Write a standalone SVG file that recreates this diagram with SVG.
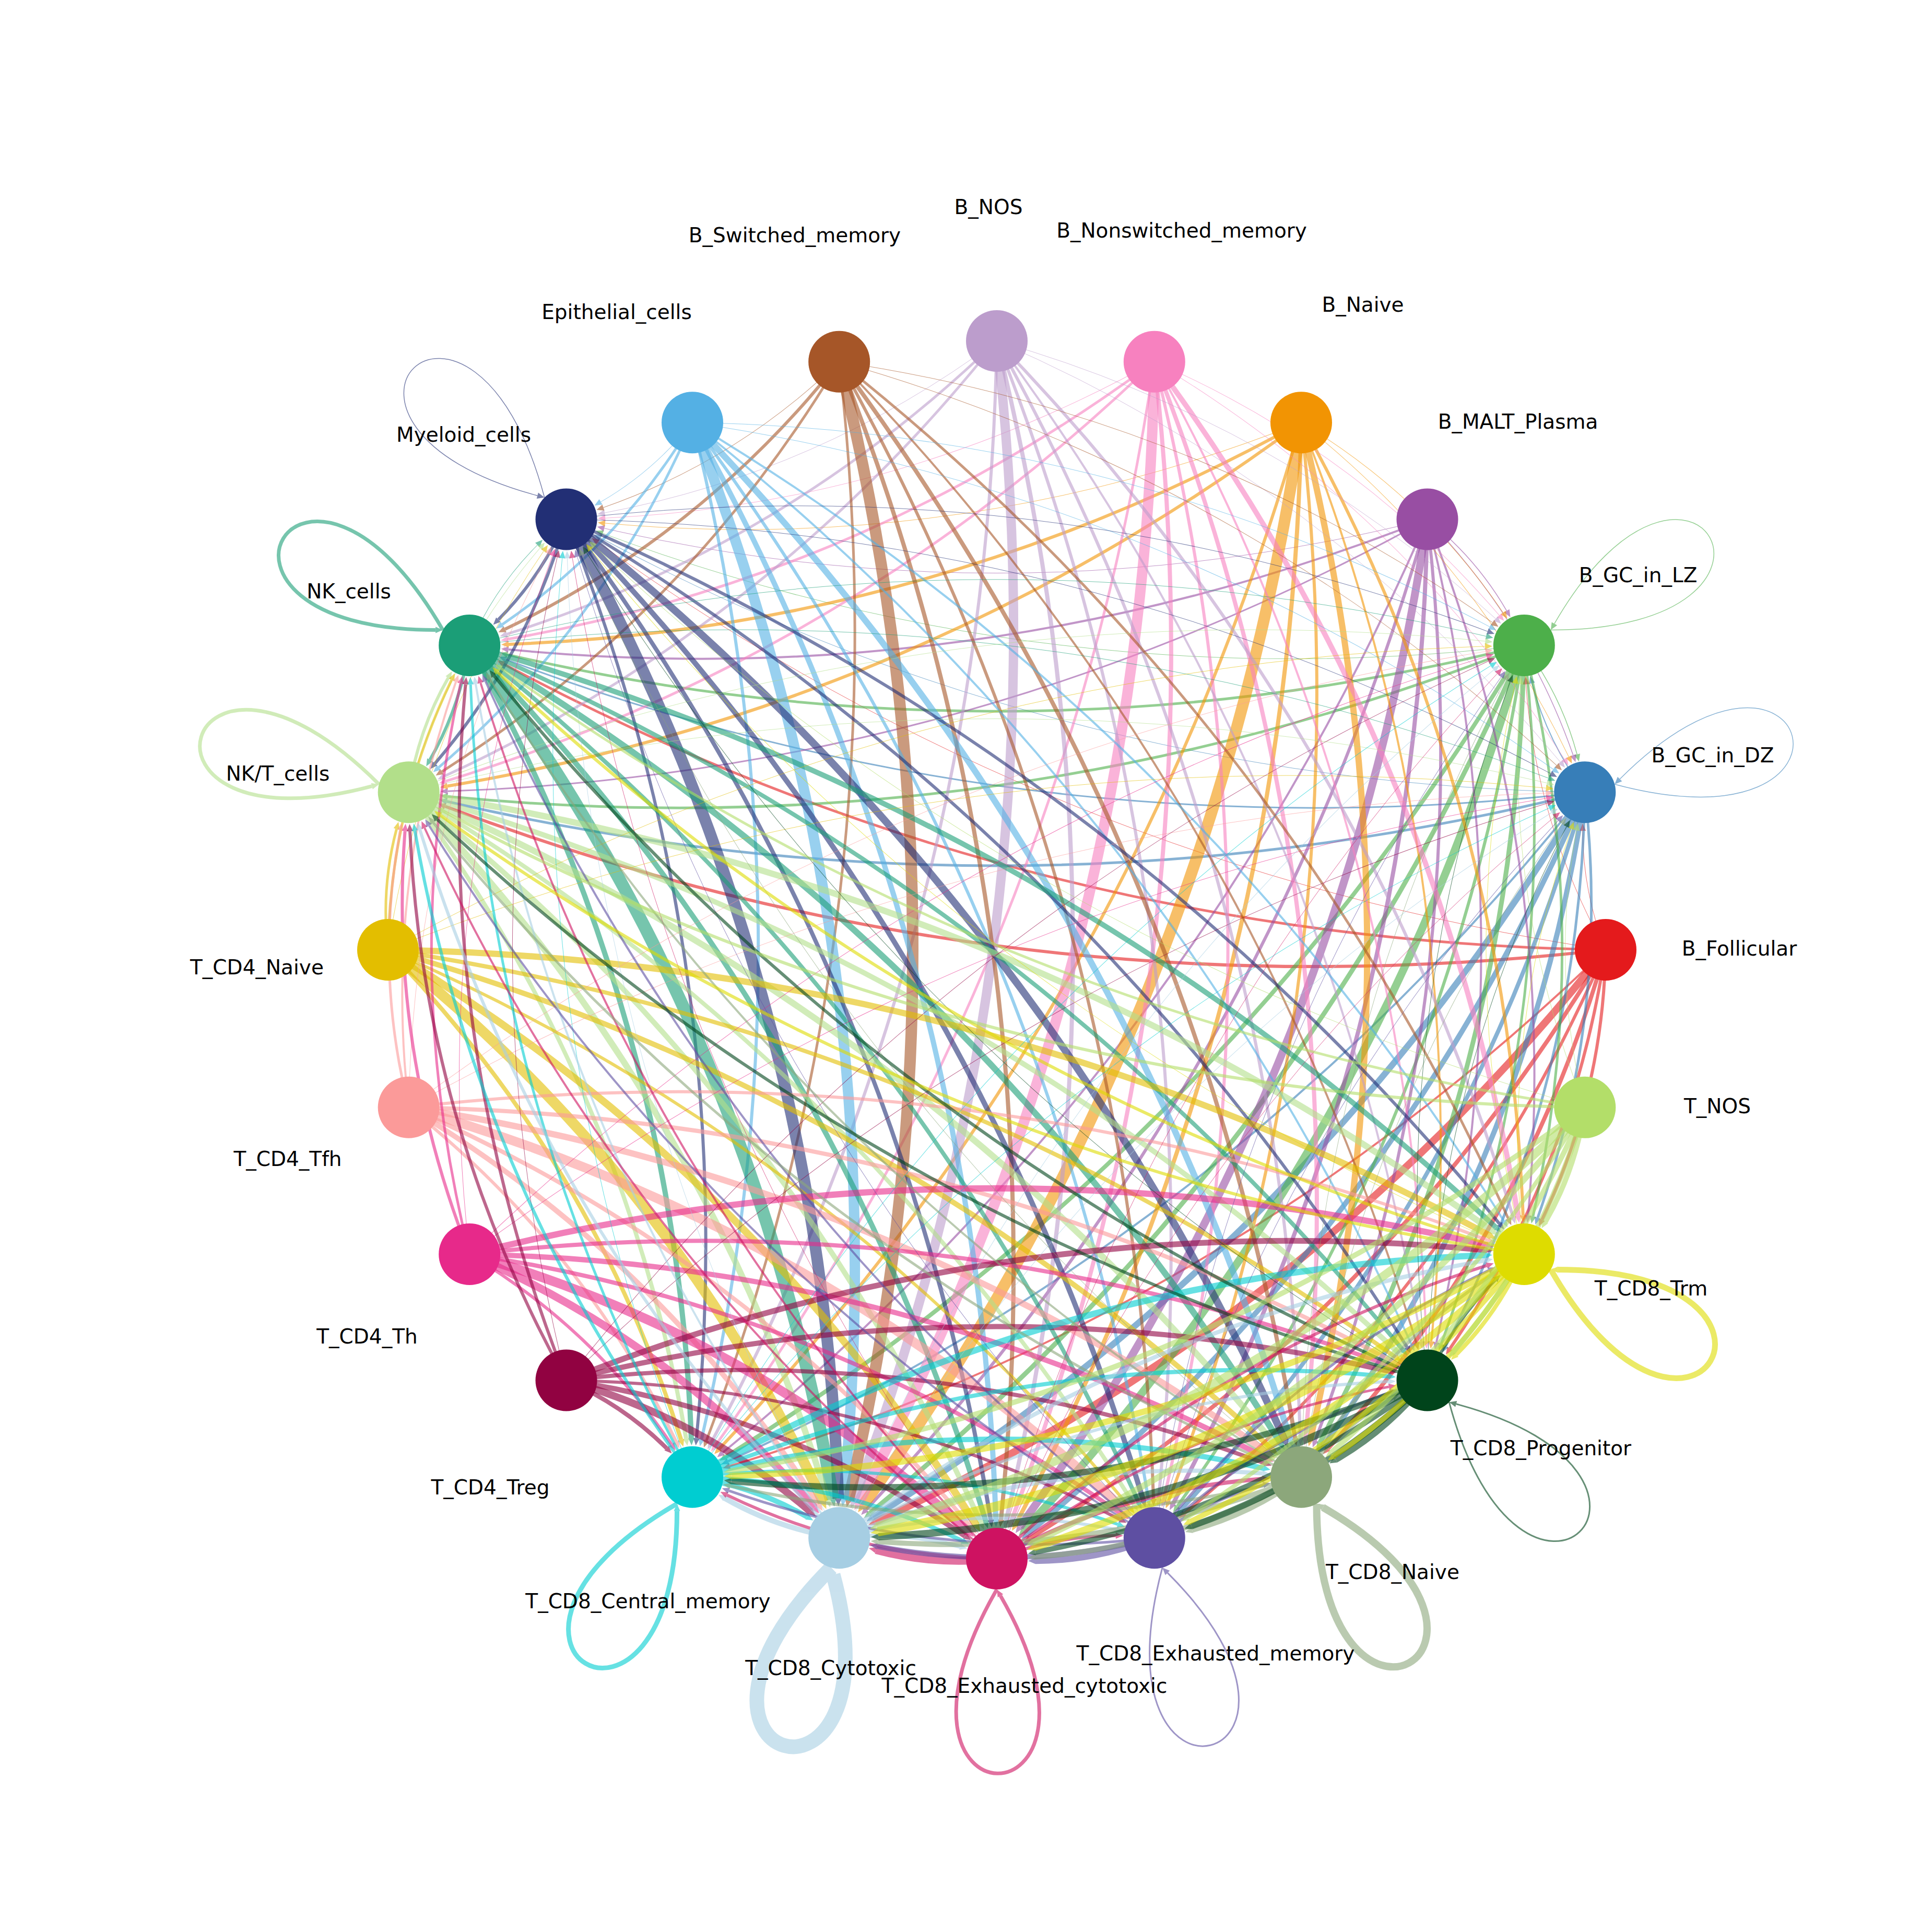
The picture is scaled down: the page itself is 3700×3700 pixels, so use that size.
<svg xmlns="http://www.w3.org/2000/svg" xmlns:xlink="http://www.w3.org/1999/xlink" width="3700" height="3700" viewBox="0 0 3700 3700">
<style>
#edges use{opacity:.6}
.lbl{font-family:"DejaVu Sans","Liberation Sans",sans-serif;font-size:39px;fill:#000;text-anchor:middle}
.k0{stroke:#E41A1C;fill:#E41A1C}.k1{stroke:#377EB8;fill:#377EB8}.k2{stroke:#4DAF4A;fill:#4DAF4A}.k3{stroke:#984EA3;fill:#984EA3}
.k4{stroke:#F29403;fill:#F29403}.k5{stroke:#F781BF;fill:#F781BF}.k6{stroke:#BC9DCC;fill:#BC9DCC}.k7{stroke:#A65628;fill:#A65628}
.k8{stroke:#54B0E4;fill:#54B0E4}.k9{stroke:#222F75;fill:#222F75}.k10{stroke:#1B9E77;fill:#1B9E77}.k11{stroke:#B2DF8A;fill:#B2DF8A}
.k12{stroke:#E3BE00;fill:#E3BE00}.k13{stroke:#FB9A99;fill:#FB9A99}.k14{stroke:#E7298A;fill:#E7298A}.k15{stroke:#910241;fill:#910241}
.k16{stroke:#00CDD1;fill:#00CDD1}.k17{stroke:#A6CEE3;fill:#A6CEE3}.k18{stroke:#CE1261;fill:#CE1261}.k19{stroke:#5E4FA2;fill:#5E4FA2}
.k20{stroke:#8CA77B;fill:#8CA77B}.k21{stroke:#00441B;fill:#00441B}.k22{stroke:#DEDC00;fill:#DEDC00}.k23{stroke:#B3DE69;fill:#B3DE69}
.nd circle{stroke:none}
</style>
<defs>
<g id="e1"><path fill="none" d="M1166 0Q1122.2 -111 1122.1 -227.9"/><path stroke="none" d="M1122.1 -241.9L1128.1 -227.9L1116.1 -227.8Z"/></g>
<g id="e2"><path fill="none" d="M1166 0Q1033.2 -239.2 1013.2 -508.6"/><path stroke="none" d="M1012.1 -522.5L1019.2 -509L1007.2 -508.1Z"/></g>
<g id="e3"><path fill="none" d="M1166 0Q914.5 -339.4 836.9 -750.9"/><path stroke="none" d="M834.3 -764.6L842.8 -752L831 -749.8Z"/></g>
<g id="e4"><path fill="none" d="M1166 0Q774.4 -405.1 604.6 -938.3"/><path stroke="none" d="M600.4 -951.6L610.3 -940.1L598.9 -936.4Z"/></g>
<g id="e5"><path fill="none" d="M1166 0Q622.5 -431.8 332.4 -1058.1"/><path stroke="none" d="M326.5 -1070.8L337.8 -1060.6L326.9 -1055.5Z"/></g>
<g id="e6"><path fill="none" d="M1166 0Q469.4 -418 39.2 -1102.3"/><path stroke="none" d="M31.7 -1114.1L44.2 -1105.4L34.1 -1099.1Z"/></g>
<g id="e7"><path fill="none" d="M1166 0Q325.7 -364.7 -254.7 -1068.1"/><path stroke="none" d="M-263.6 -1078.9L-250.1 -1071.9L-259.3 -1064.3Z"/></g>
<g id="e8"><path fill="none" d="M1166 0Q201.3 -276 -528.8 -958.2"/><path stroke="none" d="M-539 -967.8L-524.7 -962.6L-532.9 -953.9Z"/></g>
<g id="e9"><path fill="none" d="M1166 0Q104.8 -157.9 -764 -780.4"/><path stroke="none" d="M-775.4 -788.6L-760.5 -785.3L-767.5 -775.5Z"/></g>
<g id="e10"><path fill="none" d="M1166 0Q42.7 -18.9 -944.1 -547.2"/><path stroke="none" d="M-956.4 -553.8L-941.2 -552.5L-946.9 -541.9Z"/></g>
<g id="e11"><path fill="none" d="M1166 0Q19.4 131.4 -1056.4 -274.8"/><path stroke="none" d="M-1069.5 -279.8L-1054.3 -280.4L-1058.6 -269.2Z"/></g>
<g id="e12"><path fill="none" d="M1166 0Q36.4 282.4 -1093.2 17.6"/><path stroke="none" d="M-1106.9 14.4L-1091.9 11.8L-1094.6 23.5Z"/></g>
<g id="e13"><path fill="none" d="M1166 0Q92.5 423.7 -1051.8 309.7"/><path stroke="none" d="M-1065.8 308.4L-1051.3 303.8L-1052.4 315.7Z"/></g>
<g id="e14"><path fill="none" d="M1166 0Q183.8 545.3 -935 581.2"/><path stroke="none" d="M-949 581.6L-935.2 575.2L-934.8 587.2Z"/></g>
<g id="e15"><path fill="none" d="M1166 0Q304 638.7 -750.5 812.9"/><path stroke="none" d="M-764.4 815.2L-751.5 807L-749.6 818.8Z"/></g>
<g id="e16"><path fill="none" d="M1166 0Q444.7 697.5 -511.2 988.6"/><path stroke="none" d="M-524.6 992.7L-513 982.9L-509.5 994.3Z"/></g>
<g id="e17"><path fill="none" d="M1166 0Q596.2 717.3 -233.4 1095.8"/><path stroke="none" d="M-246.2 1101.7L-235.9 1090.4L-230.9 1101.3Z"/></g>
<g id="e18"><path fill="none" d="M1166 0Q748.1 696.6 63.8 1126.8"/><path stroke="none" d="M51.9 1134.3L60.6 1121.8L66.9 1131.9Z"/></g>
<g id="e19"><path fill="none" d="M1166 0Q889.6 636.8 359.8 1079.1"/><path stroke="none" d="M349 1088L355.9 1074.5L363.6 1083.7Z"/></g>
<g id="e20"><path fill="none" d="M1166 0Q1011 541.7 634.2 955.3"/><path stroke="none" d="M624.7 965.7L629.7 951.3L638.6 959.4Z"/></g>
<g id="e21"><path fill="none" d="M1166 0Q1103.8 417.8 867.8 763.7"/><path stroke="none" d="M859.9 775.2L862.8 760.3L872.7 767Z"/></g>
<g id="e22"><path fill="none" d="M1166 0Q1161.4 273.5 1044.1 516.9"/><path stroke="none" d="M1038 529.5L1038.7 514.3L1049.5 519.5Z"/></g>
<g id="e23"><path fill="none" d="M1166 0Q1179.6 118.6 1149.5 231.5"/><path stroke="none" d="M1145.9 245L1143.7 229.9L1155.3 233Z"/></g>
<g id="lp"><path fill="none" d="M1225 0C1692.7 270 1692.7 -270 1237.1 -7"/><path stroke="none" d="M1225 0L1240.1 -1.8L1234.1 -12.2Z"/></g>
</defs>
<rect width="3700" height="3700" fill="#fff"/>
<g id="edges" transform="translate(1909 1819)">
<g class="k0" transform="rotate(0)"><use href="#e1" stroke-width="1"/><use href="#e2" stroke-width="1"/><use href="#e9" stroke-width="1"/><use href="#e10" stroke-width="5"/><use href="#e11" stroke-width="6"/><use href="#e16" stroke-width="4"/><use href="#e17" stroke-width="14"/><use href="#e18" stroke-width="8"/><use href="#e19" stroke-width="6"/><use href="#e20" stroke-width="8"/><use href="#e21" stroke-width="6"/><use href="#e22" stroke-width="6"/></g>
<g class="k1" transform="rotate(-15)"><use href="#lp" stroke-width="1.5"/><use href="#e1" stroke-width="2"/><use href="#e8" stroke-width="1"/><use href="#e9" stroke-width="3"/><use href="#e10" stroke-width="5"/><use href="#e15" stroke-width="4"/><use href="#e16" stroke-width="12"/><use href="#e17" stroke-width="10"/><use href="#e18" stroke-width="8"/><use href="#e19" stroke-width="10"/><use href="#e20" stroke-width="5"/><use href="#e21" stroke-width="5"/></g>
<g class="k2" transform="rotate(-30)"><use href="#e23" stroke-width="1.5"/><use href="#lp" stroke-width="1.5"/><use href="#e7" stroke-width="1"/><use href="#e8" stroke-width="5"/><use href="#e9" stroke-width="5"/><use href="#e14" stroke-width="8"/><use href="#e15" stroke-width="9"/><use href="#e16" stroke-width="15"/><use href="#e17" stroke-width="6"/><use href="#e18" stroke-width="9"/><use href="#e19" stroke-width="5"/><use href="#e20" stroke-width="5"/></g>
<g class="k3" transform="rotate(-45)"><use href="#e22" stroke-width="1.5"/><use href="#e23" stroke-width="1.5"/><use href="#e6" stroke-width="1"/><use href="#e7" stroke-width="4"/><use href="#e8" stroke-width="3"/><use href="#e13" stroke-width="4"/><use href="#e14" stroke-width="6"/><use href="#e15" stroke-width="15"/><use href="#e16" stroke-width="8"/><use href="#e17" stroke-width="6"/><use href="#e18" stroke-width="4"/><use href="#e19" stroke-width="4"/></g>
<g class="k4" transform="rotate(-60)"><use href="#e21" stroke-width="1"/><use href="#e22" stroke-width="1"/><use href="#e5" stroke-width="1"/><use href="#e6" stroke-width="6"/><use href="#e7" stroke-width="6"/><use href="#e12" stroke-width="6"/><use href="#e13" stroke-width="22"/><use href="#e14" stroke-width="8"/><use href="#e15" stroke-width="6"/><use href="#e16" stroke-width="12"/><use href="#e17" stroke-width="4"/><use href="#e18" stroke-width="6"/></g>
<g class="k5" transform="rotate(-75)"><use href="#e20" stroke-width="1"/><use href="#e21" stroke-width="1"/><use href="#e4" stroke-width="1"/><use href="#e5" stroke-width="5"/><use href="#e6" stroke-width="5"/><use href="#e11" stroke-width="5"/><use href="#e12" stroke-width="20"/><use href="#e13" stroke-width="8"/><use href="#e14" stroke-width="6"/><use href="#e15" stroke-width="8"/><use href="#e16" stroke-width="4"/><use href="#e17" stroke-width="10"/></g>
<g class="k6" transform="rotate(-90)"><use href="#e19" stroke-width="1"/><use href="#e20" stroke-width="1"/><use href="#e3" stroke-width="1"/><use href="#e4" stroke-width="5"/><use href="#e5" stroke-width="5"/><use href="#e10" stroke-width="6"/><use href="#e11" stroke-width="18"/><use href="#e12" stroke-width="8"/><use href="#e13" stroke-width="6"/><use href="#e14" stroke-width="6"/><use href="#e15" stroke-width="4"/><use href="#e16" stroke-width="6"/></g>
<g class="k7" transform="rotate(-105)"><use href="#e18" stroke-width="1"/><use href="#e19" stroke-width="1"/><use href="#e2" stroke-width="1"/><use href="#e3" stroke-width="6"/><use href="#e4" stroke-width="5"/><use href="#e9" stroke-width="5"/><use href="#e10" stroke-width="22"/><use href="#e11" stroke-width="8"/><use href="#e12" stroke-width="6"/><use href="#e13" stroke-width="8"/><use href="#e14" stroke-width="4"/><use href="#e15" stroke-width="5"/></g>
<g class="k8" transform="rotate(-120)"><use href="#e17" stroke-width="1"/><use href="#e18" stroke-width="1"/><use href="#e1" stroke-width="1"/><use href="#e2" stroke-width="5"/><use href="#e3" stroke-width="5"/><use href="#e8" stroke-width="6"/><use href="#e9" stroke-width="20"/><use href="#e10" stroke-width="10"/><use href="#e11" stroke-width="6"/><use href="#e12" stroke-width="12"/><use href="#e13" stroke-width="4"/><use href="#e14" stroke-width="4"/></g>
<g class="k9" transform="rotate(-135)"><use href="#e16" stroke-width="1"/><use href="#e17" stroke-width="1"/><use href="#lp" stroke-width="1.5"/><use href="#e1" stroke-width="6"/><use href="#e2" stroke-width="6"/><use href="#e7" stroke-width="6"/><use href="#e8" stroke-width="22"/><use href="#e9" stroke-width="8"/><use href="#e10" stroke-width="10"/><use href="#e11" stroke-width="14"/><use href="#e12" stroke-width="6"/><use href="#e13" stroke-width="6"/></g>
<g class="k10" transform="rotate(-150)"><use href="#e15" stroke-width="1"/><use href="#e16" stroke-width="1"/><use href="#e23" stroke-width="1"/><use href="#lp" stroke-width="7"/><use href="#e1" stroke-width="6"/><use href="#e6" stroke-width="10"/><use href="#e7" stroke-width="24"/><use href="#e8" stroke-width="10"/><use href="#e9" stroke-width="8"/><use href="#e10" stroke-width="12"/><use href="#e11" stroke-width="8"/><use href="#e12" stroke-width="10"/></g>
<g class="k11" transform="rotate(-165)"><use href="#e14" stroke-width="1"/><use href="#e15" stroke-width="1"/><use href="#e22" stroke-width="1"/><use href="#e23" stroke-width="6"/><use href="#lp" stroke-width="7"/><use href="#e5" stroke-width="8"/><use href="#e6" stroke-width="12"/><use href="#e7" stroke-width="10"/><use href="#e8" stroke-width="8"/><use href="#e9" stroke-width="12"/><use href="#e10" stroke-width="10"/><use href="#e11" stroke-width="12"/></g>
<g class="k12" transform="rotate(-180)"><use href="#e13" stroke-width="1"/><use href="#e14" stroke-width="1"/><use href="#e21" stroke-width="1"/><use href="#e22" stroke-width="5"/><use href="#e23" stroke-width="5"/><use href="#e4" stroke-width="8"/><use href="#e5" stroke-width="20"/><use href="#e6" stroke-width="14"/><use href="#e7" stroke-width="6"/><use href="#e8" stroke-width="10"/><use href="#e9" stroke-width="8"/><use href="#e10" stroke-width="12"/></g>
<g class="k13" transform="rotate(-195)"><use href="#e12" stroke-width="1"/><use href="#e13" stroke-width="1"/><use href="#e20" stroke-width="1"/><use href="#e21" stroke-width="4"/><use href="#e22" stroke-width="5"/><use href="#e3" stroke-width="6"/><use href="#e4" stroke-width="10"/><use href="#e5" stroke-width="8"/><use href="#e6" stroke-width="18"/><use href="#e7" stroke-width="12"/><use href="#e8" stroke-width="8"/><use href="#e9" stroke-width="6"/></g>
<g class="k14" transform="rotate(-210)"><use href="#e11" stroke-width="1"/><use href="#e12" stroke-width="1"/><use href="#e19" stroke-width="1"/><use href="#e20" stroke-width="5"/><use href="#e21" stroke-width="6"/><use href="#e2" stroke-width="6"/><use href="#e3" stroke-width="15"/><use href="#e4" stroke-width="18"/><use href="#e5" stroke-width="8"/><use href="#e6" stroke-width="10"/><use href="#e7" stroke-width="8"/><use href="#e8" stroke-width="12"/></g>
<g class="k15" transform="rotate(-225)"><use href="#e10" stroke-width="1"/><use href="#e11" stroke-width="1"/><use href="#e18" stroke-width="1"/><use href="#e19" stroke-width="6"/><use href="#e20" stroke-width="6"/><use href="#e1" stroke-width="8"/><use href="#e2" stroke-width="14"/><use href="#e3" stroke-width="10"/><use href="#e4" stroke-width="6"/><use href="#e5" stroke-width="8"/><use href="#e6" stroke-width="10"/><use href="#e7" stroke-width="11"/></g>
<g class="k16" transform="rotate(-240)"><use href="#e9" stroke-width="1"/><use href="#e10" stroke-width="1"/><use href="#e17" stroke-width="1"/><use href="#e18" stroke-width="5"/><use href="#e19" stroke-width="6"/><use href="#lp" stroke-width="9"/><use href="#e1" stroke-width="10"/><use href="#e2" stroke-width="8"/><use href="#e3" stroke-width="6"/><use href="#e4" stroke-width="10"/><use href="#e5" stroke-width="8"/><use href="#e6" stroke-width="12"/></g>
<g class="k17" transform="rotate(-255)"><use href="#e8" stroke-width="1"/><use href="#e9" stroke-width="1"/><use href="#e16" stroke-width="1"/><use href="#e17" stroke-width="4"/><use href="#e18" stroke-width="6"/><use href="#e23" stroke-width="10"/><use href="#lp" stroke-width="28"/><use href="#e1" stroke-width="8"/><use href="#e2" stroke-width="6"/><use href="#e3" stroke-width="8"/><use href="#e4" stroke-width="6"/><use href="#e5" stroke-width="8"/></g>
<g class="k18" transform="rotate(-270)"><use href="#e7" stroke-width="1"/><use href="#e8" stroke-width="1"/><use href="#e15" stroke-width="1"/><use href="#e16" stroke-width="4"/><use href="#e17" stroke-width="4"/><use href="#e22" stroke-width="6"/><use href="#e23" stroke-width="15"/><use href="#lp" stroke-width="7"/><use href="#e1" stroke-width="6"/><use href="#e2" stroke-width="8"/><use href="#e3" stroke-width="5"/><use href="#e4" stroke-width="6"/></g>
<g class="k19" transform="rotate(-285)"><use href="#e6" stroke-width="1"/><use href="#e7" stroke-width="1"/><use href="#e14" stroke-width="1"/><use href="#e15" stroke-width="4"/><use href="#e16" stroke-width="4"/><use href="#e21" stroke-width="5"/><use href="#e22" stroke-width="10"/><use href="#e23" stroke-width="12"/><use href="#lp" stroke-width="3"/><use href="#e1" stroke-width="6"/><use href="#e2" stroke-width="5"/><use href="#e3" stroke-width="5"/></g>
<g class="k20" transform="rotate(-300)"><use href="#e5" stroke-width="1"/><use href="#e6" stroke-width="1"/><use href="#e13" stroke-width="1"/><use href="#e14" stroke-width="4"/><use href="#e15" stroke-width="5"/><use href="#e20" stroke-width="6"/><use href="#e21" stroke-width="10"/><use href="#e22" stroke-width="10"/><use href="#e23" stroke-width="10"/><use href="#lp" stroke-width="14"/><use href="#e1" stroke-width="6"/><use href="#e2" stroke-width="6"/></g>
<g class="k21" transform="rotate(-315)"><use href="#e4" stroke-width="1"/><use href="#e5" stroke-width="1"/><use href="#e12" stroke-width="1"/><use href="#e13" stroke-width="6"/><use href="#e14" stroke-width="6"/><use href="#e19" stroke-width="12"/><use href="#e20" stroke-width="14"/><use href="#e21" stroke-width="10"/><use href="#e22" stroke-width="12"/><use href="#e23" stroke-width="12"/><use href="#lp" stroke-width="3"/><use href="#e1" stroke-width="6"/></g>
<g class="k22" transform="rotate(-330)"><use href="#e3" stroke-width="1"/><use href="#e4" stroke-width="1"/><use href="#e11" stroke-width="1"/><use href="#e12" stroke-width="6"/><use href="#e13" stroke-width="6"/><use href="#e18" stroke-width="12"/><use href="#e19" stroke-width="18"/><use href="#e20" stroke-width="14"/><use href="#e21" stroke-width="10"/><use href="#e22" stroke-width="10"/><use href="#e23" stroke-width="8"/><use href="#lp" stroke-width="11"/></g>
<g class="k23" transform="rotate(-345)"><use href="#e2" stroke-width="1"/><use href="#e3" stroke-width="1"/><use href="#e10" stroke-width="1"/><use href="#e11" stroke-width="5"/><use href="#e12" stroke-width="6"/><use href="#e17" stroke-width="10"/><use href="#e18" stroke-width="16"/><use href="#e19" stroke-width="12"/><use href="#e20" stroke-width="8"/><use href="#e21" stroke-width="10"/><use href="#e22" stroke-width="10"/><use href="#e23" stroke-width="10"/></g>
</g>
<g id="nodes">
<g id="n-B_Follicular" class="nd"><circle cx="3075" cy="1819" r="59" fill="#E41A1C"/><text class="lbl" x="3331" y="1830">B_Follicular</text></g>
<g id="n-B_GC_in_DZ" class="nd"><circle cx="3035.3" cy="1517.2" r="59" fill="#377EB8"/><text class="lbl" x="3280" y="1460">B_GC_in_DZ</text></g>
<g id="n-B_GC_in_LZ" class="nd"><circle cx="2918.8" cy="1236" r="59" fill="#4DAF4A"/><text class="lbl" x="3137" y="1115">B_GC_in_LZ</text></g>
<g id="n-B_MALT_Plasma" class="nd"><circle cx="2733.5" cy="994.5" r="59" fill="#984EA3"/><text class="lbl" x="2907" y="821">B_MALT_Plasma</text></g>
<g id="n-B_Naive" class="nd"><circle cx="2492" cy="809.2" r="59" fill="#F29403"/><text class="lbl" x="2610" y="597">B_Naive</text></g>
<g id="n-B_Nonswitched_memory" class="nd"><circle cx="2210.8" cy="692.7" r="59" fill="#F781BF"/><text class="lbl" x="2263" y="455">B_Nonswitched_memory</text></g>
<g id="n-B_NOS" class="nd"><circle cx="1909" cy="653" r="59" fill="#BC9DCC"/><text class="lbl" x="1893" y="410">B_NOS</text></g>
<g id="n-B_Switched_memory" class="nd"><circle cx="1607.2" cy="692.7" r="59" fill="#A65628"/><text class="lbl" x="1522" y="464">B_Switched_memory</text></g>
<g id="n-Epithelial_cells" class="nd"><circle cx="1326" cy="809.2" r="59" fill="#54B0E4"/><text class="lbl" x="1181" y="611">Epithelial_cells</text></g>
<g id="n-Myeloid_cells" class="nd"><circle cx="1084.5" cy="994.5" r="59" fill="#222F75"/><text class="lbl" x="888" y="846">Myeloid_cells</text></g>
<g id="n-NK_cells" class="nd"><circle cx="899.2" cy="1236" r="59" fill="#1B9E77"/><text class="lbl" x="668" y="1146">NK_cells</text></g>
<g id="n-NKT_cells" class="nd"><circle cx="782.7" cy="1517.2" r="59" fill="#B2DF8A"/><text class="lbl" x="532" y="1495">NK/T_cells</text></g>
<g id="n-T_CD4_Naive" class="nd"><circle cx="743" cy="1819" r="59" fill="#E3BE00"/><text class="lbl" x="492" y="1866">T_CD4_Naive</text></g>
<g id="n-T_CD4_Tfh" class="nd"><circle cx="782.7" cy="2120.8" r="59" fill="#FB9A99"/><text class="lbl" x="551" y="2233">T_CD4_Tfh</text></g>
<g id="n-T_CD4_Th" class="nd"><circle cx="899.2" cy="2402" r="59" fill="#E7298A"/><text class="lbl" x="703" y="2573">T_CD4_Th</text></g>
<g id="n-T_CD4_Treg" class="nd"><circle cx="1084.5" cy="2643.5" r="59" fill="#910241"/><text class="lbl" x="939" y="2862">T_CD4_Treg</text></g>
<g id="n-T_CD8_Central_memory" class="nd"><circle cx="1326" cy="2828.8" r="59" fill="#00CDD1"/><text class="lbl" x="1241" y="3080">T_CD8_Central_memory</text></g>
<g id="n-T_CD8_Cytotoxic" class="nd"><circle cx="1607.2" cy="2945.3" r="59" fill="#A6CEE3"/><text class="lbl" x="1591" y="3208">T_CD8_Cytotoxic</text></g>
<g id="n-T_CD8_Exhausted_cytotoxic" class="nd"><circle cx="1909" cy="2985" r="59" fill="#CE1261"/><text class="lbl" x="1962" y="3242">T_CD8_Exhausted_cytotoxic</text></g>
<g id="n-T_CD8_Exhausted_memory" class="nd"><circle cx="2210.8" cy="2945.3" r="59" fill="#5E4FA2"/><text class="lbl" x="2328" y="3180">T_CD8_Exhausted_memory</text></g>
<g id="n-T_CD8_Naive" class="nd"><circle cx="2492" cy="2828.8" r="59" fill="#8CA77B"/><text class="lbl" x="2667" y="3024">T_CD8_Naive</text></g>
<g id="n-T_CD8_Progenitor" class="nd"><circle cx="2733.5" cy="2643.5" r="59" fill="#00441B"/><text class="lbl" x="2951" y="2787">T_CD8_Progenitor</text></g>
<g id="n-T_CD8_Trm" class="nd"><circle cx="2918.8" cy="2402" r="59" fill="#DEDC00"/><text class="lbl" x="3162" y="2481">T_CD8_Trm</text></g>
<g id="n-T_NOS" class="nd"><circle cx="3035.3" cy="2120.8" r="59" fill="#B3DE69"/><text class="lbl" x="3289" y="2132">T_NOS</text></g>
</g>
</svg>
